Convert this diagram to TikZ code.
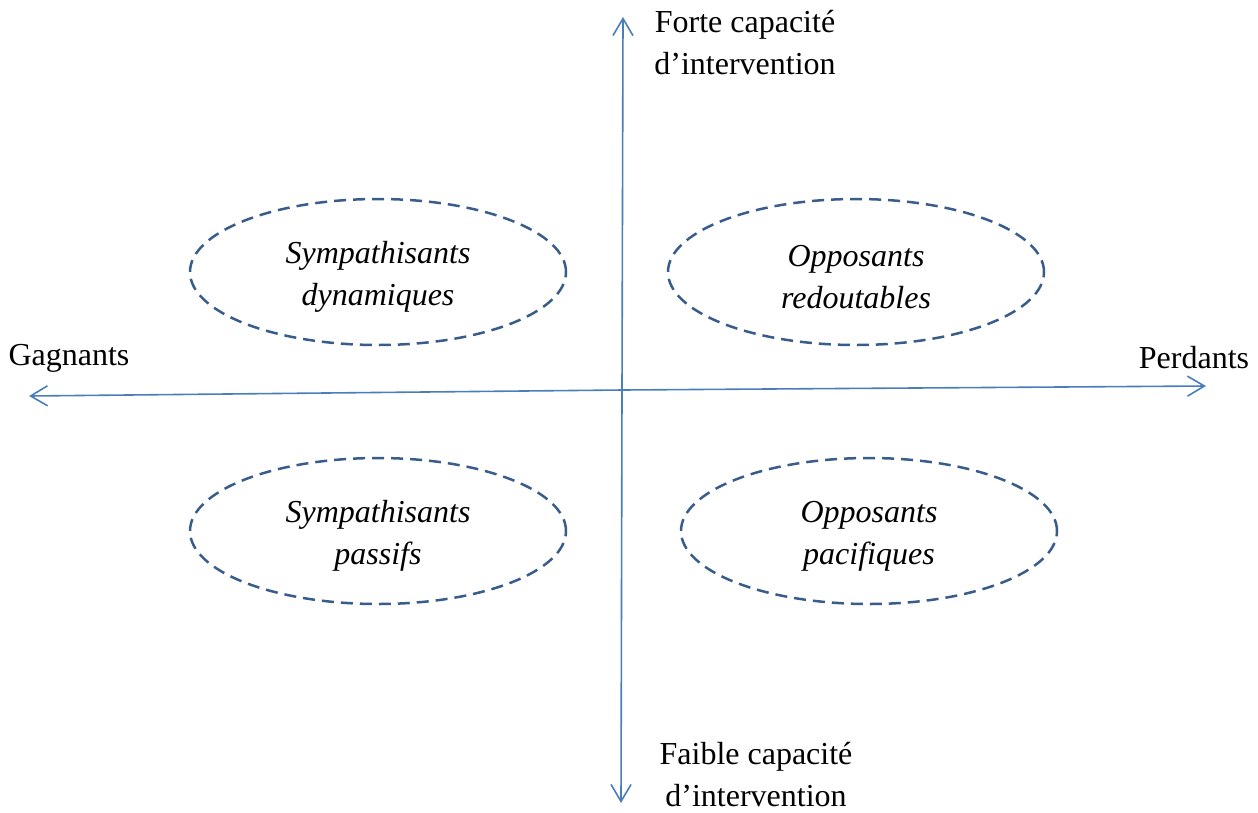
\documentclass[tikz,border=0pt]{standalone}
\usepackage{fontspec}
\setmainfont{Liberation Serif}
\usetikzlibrary{arrows.meta,shapes.geometric}
\definecolor{axisblue}{HTML}{4A7EBB}
\definecolor{ringblue}{HTML}{385D8A}
\tikzset{
  axis/.style={draw=axisblue, line width=1.6pt, -{Straight Barb[length=17pt,width=20pt,line width=1.6pt]}},
  group/.style={draw=ringblue, line width=2.5pt, dash pattern=on 12pt off 7pt, ellipse, minimum width=376pt, minimum height=146pt, inner sep=0pt},
  lbl/.style={font=\fontsize{32}{42}\selectfont, align=center, inner sep=0pt},
  grouptext/.style={font=\fontsize{32}{42}\selectfont\itshape, align=center, inner sep=0pt}
}
\begin{document}
\begin{tikzpicture}[x=1pt, y=-1pt]
  \useasboundingbox (0,0) rectangle (1258,812);
  % axes
  \coordinate (origin) at (622,390);
  \coordinate (top) at (623,17);
  \coordinate (bottom) at (621,803);
  \coordinate (left) at (29,396);
  \coordinate (right) at (1206,386);
  \draw[axis] (origin) -- (top);
  \draw[axis] (origin) -- (bottom);
  \draw[axis] (origin) -- (left);
  \draw[axis] (origin) -- (right);
  % axis labels
  \node[lbl] (strong) at (745,43) {Forte capacité\\d’intervention};
  \node[lbl] (weak) at (756,775) {Faible capacité\\d’intervention};
  \node[lbl] (winners) at (69,358) {Gagnants};
  \node[lbl] (losers) at (1194,358) {Perdants};
  % stakeholder groups
  \node[group] (sd) at (378,272) {};
  \node[grouptext] at ([yshift=-5pt]sd) {Sympathisants\\dynamiques};
  \node[group] (or) at (856,272) {};
  \node[grouptext] at ([yshift=-5pt]or) {Opposants\\redoutables};
  \node[group] (sp) at (378,531) {};
  \node[grouptext] at ([yshift=-5pt]sp) {Sympathisants\\passifs};
  \node[group] (op) at (869,531) {};
  \node[grouptext] at ([yshift=-5pt]op) {Opposants\\pacifiques};
\end{tikzpicture}
\end{document}
